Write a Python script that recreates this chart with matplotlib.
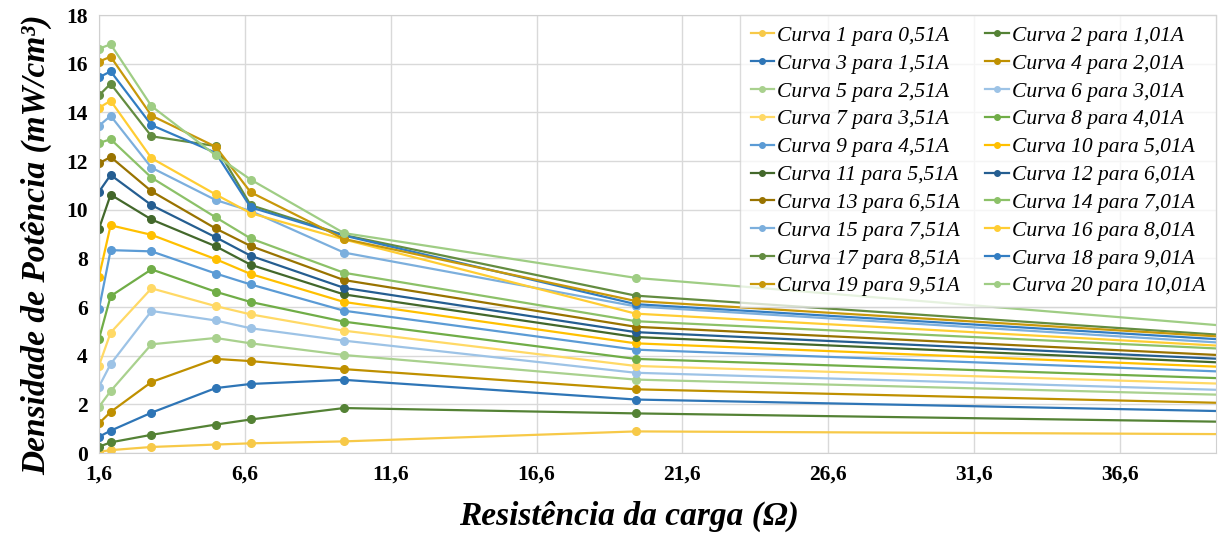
import matplotlib.pyplot as plt

# resistencias de carga (ohm)
resistencia = [1.6, 2.0, 3.4, 5.6, 6.8, 10.0, 20.0, 47.0]

correntes = ['0,51', '1,01', '1,51', '2,01', '2,51', '3,01', '3,51', '4,01', '4,51', '5,01',
             '5,51', '6,01', '6,51', '7,01', '7,51', '8,01', '8,51', '9,01', '9,51', '10,01']

curva1 = [0.05, 0.12, 0.25, 0.35, 0.40, 0.48, 0.89, 0.74]
curva2 = [0.26, 0.44, 0.75, 1.17, 1.38, 1.85, 1.63, 1.17]
curva3 = [0.67, 0.92, 1.66, 2.67, 2.84, 3.01, 2.20, 1.56]
curva4 = [1.22, 1.69, 2.92, 3.87, 3.78, 3.45, 2.62, 1.87]
curva5 = [1.90, 2.55, 4.47, 4.73, 4.51, 4.03, 3.02, 2.18]
curva6 = [2.73, 3.66, 5.84, 5.45, 5.13, 4.62, 3.30, 2.35]
curva7 = [3.59, 4.95, 6.77, 6.04, 5.70, 5.03, 3.58, 2.60]
curva8 = [4.69, 6.45, 7.55, 6.63, 6.21, 5.40, 3.87, 2.80]
curva9 = [5.92, 8.34, 8.29, 7.38, 6.93, 5.85, 4.25, 3.04]
curva10 = [7.25, 9.36, 8.97, 7.97, 7.36, 6.21, 4.51, 3.21]
curva11 = [9.22, 10.62, 9.60, 8.50, 7.74, 6.52, 4.77, 3.36]
curva12 = [10.74, 11.43, 10.19, 8.87, 8.11, 6.79, 4.97, 3.49]
curva13 = [11.91, 12.17, 10.76, 9.23, 8.51, 7.11, 5.19, 3.62]
curva14 = [12.74, 12.90, 11.32, 9.69, 8.82, 7.41, 5.42, 3.90]
curva15 = [13.45, 13.86, 11.73, 10.40, 9.95, 8.24, 6.03, 4.02]
curva16 = [14.19, 14.48, 12.12, 10.63, 9.86, 8.78, 5.73, 3.95]
curva17 = [14.70, 15.18, 13.02, 12.62, 10.19, 8.96, 6.47, 4.30]
curva18 = [15.44, 15.69, 13.48, 12.34, 10.10, 8.94, 6.12, 4.17]
curva19 = [16.09, 16.29, 13.87, 12.59, 10.72, 8.80, 6.25, 4.28]
curva20 = [16.62, 16.80, 14.26, 12.24, 11.24, 9.04, 7.20, 4.57]

curvas = [curva1, curva2, curva3, curva4, curva5, curva6, curva7, curva8, curva9, curva10,
          curva11, curva12, curva13, curva14, curva15, curva16, curva17, curva18, curva19, curva20]

cores = ['#F7C948', '#548235', '#2E75B6', '#BF9000', '#A9D18E', '#9DC3E6', '#FFD966', '#70AD47',
         '#5B9BD5', '#FFC000', '#43682B', '#255E91', '#997300', '#8CC168', '#7CAFDD', '#FFCD33',
         '#638C40', '#327DC2', '#C8980A', '#9FCD84']

plt.rcParams['font.family'] = ['Liberation Serif', 'DejaVu Serif']

fig = plt.figure(figsize=(12.25, 5.4), dpi=100)
ax = fig.add_axes([0.0808, 0.161, 0.912, 0.811])

linhas = []
for i, (valores, cor) in enumerate(zip(curvas, cores)):
    l, = ax.plot(resistencia, valores, color=cor, lw=1.6, marker='o', ms=5.5,
                 label='Curva %d para %sA' % (i + 1, correntes[i]))
    linhas.append(l)

ax.set_xlim(1.6, 39.9)
ax.set_ylim(0, 18)
ax.set_xticks([1.6, 6.6, 11.6, 16.6, 21.6, 26.6, 31.6, 36.6])
ax.set_xticklabels(['1,6', '6,6', '11,6', '16,6', '21,6', '26,6', '31,6', '36,6'])
ax.set_yticks(range(0, 19, 2))
ax.tick_params(length=0, labelsize=15.5, pad=8)
for t in ax.get_xticklabels() + ax.get_yticklabels():
    t.set_fontweight('bold')

ax.grid(True, color='#D9D9D9', lw=1)
ax.set_axisbelow(True)
for s in ax.spines.values():
    s.set_color('#D0D0D0')

ax.set_xlabel('Resistência da carga (Ω)', fontsize=24, fontweight='bold', style='italic')
ax.xaxis.set_label_coords(0.474, -0.11)
ax.set_ylabel('Densidade de Potência (mW/cm³)', fontsize=24, fontweight='bold', style='italic')
ax.yaxis.set_label_coords(-0.042, 0.475)

# legenda preenchida por linha (Curva 1, Curva 2 na mesma linha)
ordem = list(range(0, 20, 2)) + list(range(1, 20, 2))
leg = ax.legend([linhas[k] for k in ordem], [linhas[k].get_label() for k in ordem],
                ncol=2, loc='upper right', bbox_to_anchor=(1.0, 1.0), borderaxespad=0,
                prop={'style': 'italic', 'size': 15.5}, handlelength=1.1, handletextpad=0.15,
                columnspacing=1.15, labelspacing=0.36, borderpad=0.5,
                frameon=True, fancybox=False, framealpha=0.75, edgecolor='#D0D0D0')
for h in leg.legend_handles:
    h.set_markersize(4)

plt.savefig('out.png', dpi=100)
